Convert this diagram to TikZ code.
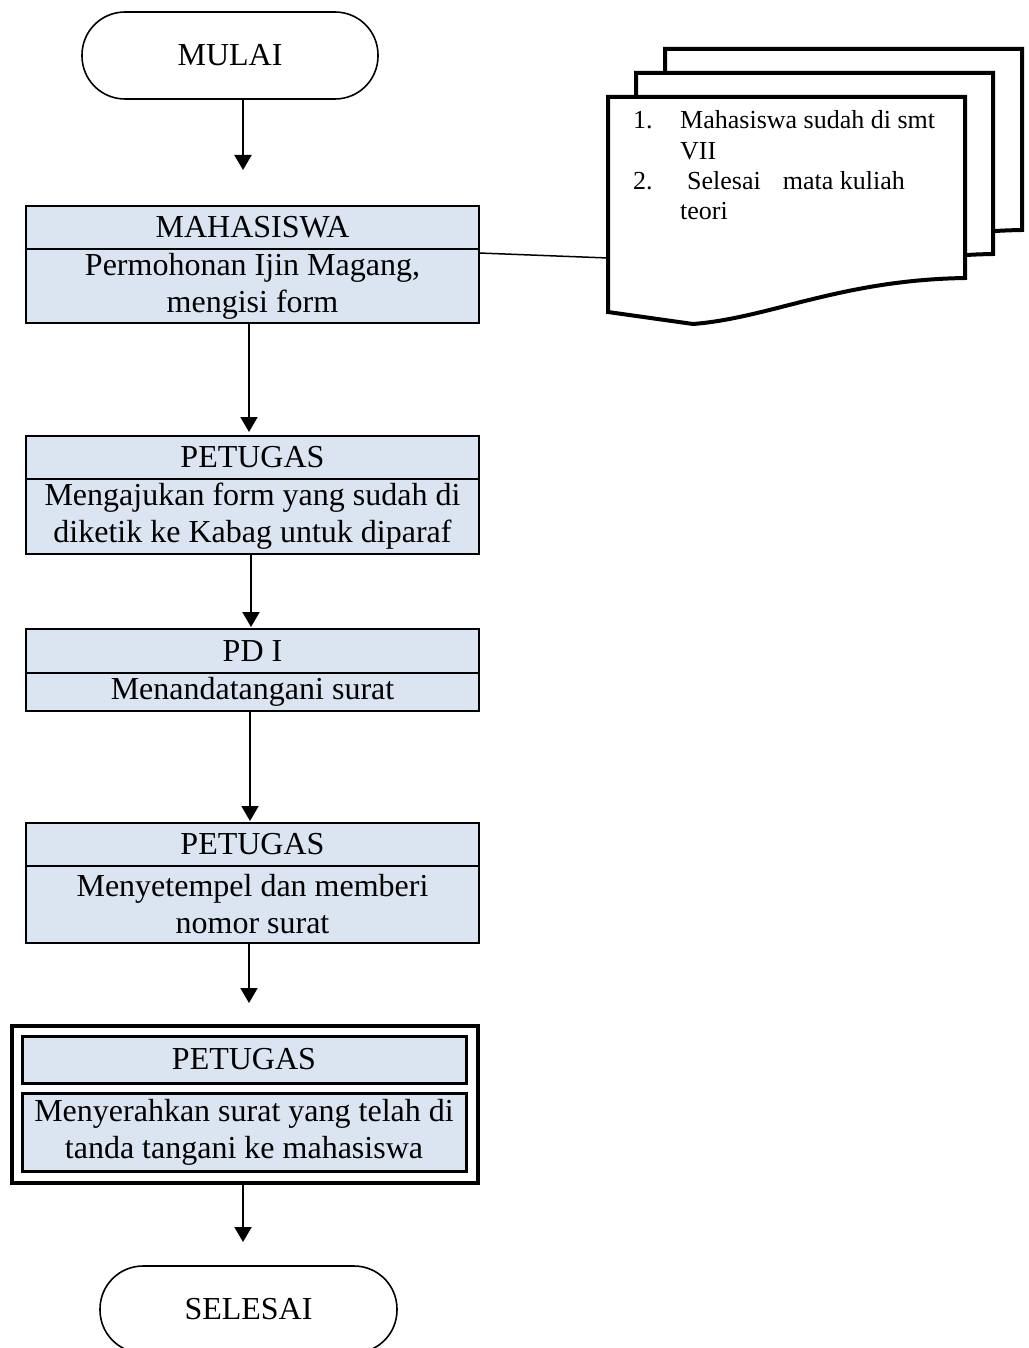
\documentclass[tikz,border=0pt]{standalone}
\usepackage{fontspec}
\setmainfont{Liberation Serif}
\usetikzlibrary{arrows.meta}
\definecolor{boxblue}{HTML}{DBE5F1}
\begin{document}
\begin{tikzpicture}[x=1pt,y=-1pt,
  box/.style={draw=black,line width=1.6pt,fill=boxblue,inner sep=0pt,align=center,
    font=\fontsize{32}{37}\selectfont},
  term/.style={draw=black,line width=1.6pt,fill=white,inner sep=0pt,
    font=\fontsize{32}{36}\selectfont},
  ibox/.style={draw=black,line width=3pt,fill=boxblue,inner sep=0pt,align=center,
    font=\fontsize{32}{37}\selectfont},
  arr/.style={line width=2pt,-{Triangle[width=17pt,length=15pt]}},
  sheet/.style={draw=black,line width=4pt,fill=white,line join=miter},
  doctext/.style={anchor=base west,inner sep=0pt,font=\fontsize{26}{30}\selectfont}]
\useasboundingbox (0,0) rectangle (1028,1348);

% terminals
\node[term,minimum width=296,minimum height=87,rounded corners=43] (mulai) at (230,55.5) {MULAI};

% box 1
\node[box,minimum width=453,minimum height=43] (h1) at (252.5,227.5) {MAHASISWA};
\node[box,minimum width=453,minimum height=74] (b1) at (252.5,286) {Permohonan Ijin Magang,\\mengisi form};

% box 2
\node[box,minimum width=453,minimum height=43] (h2) at (252.5,457.5) {PETUGAS};
\node[box,minimum width=453,minimum height=75] (b2) at (252.5,516.5) {Mengajukan form yang sudah di\\diketik ke Kabag untuk diparaf};

% box 3
\node[box,minimum width=453,minimum height=44] (h3) at (252.5,651) {PD I};
\node[box,minimum width=453,minimum height=38] (b3) at (252.5,692) {Menandatangani surat};

% box 4
\node[box,minimum width=453,minimum height=43] (h4) at (252.5,844.5) {PETUGAS};
\node[box,minimum width=453,minimum height=77] (b4) at (252.5,904.5) {Menyetempel dan memberi\\nomor surat};

% box 5 (double)
\node[draw=black,line width=4pt,fill=white,minimum width=466,minimum height=157,inner sep=0pt] (outer) at (245,1104.5) {};
\node[ibox,minimum width=444,minimum height=47] (h5) at (244,1059.5) {PETUGAS};
\node[ibox,minimum width=444,minimum height=78] (b5) at (244,1132) {Menyerahkan surat yang telah di\\tanda tangani ke mahasiswa};

\node[term,minimum width=297,minimum height=87,rounded corners=43] (selesai) at (248.5,1309.5) {SELESAI};

% arrows
\coordinate (e1) at (243,170);
\coordinate (e2) at (249,432);
\coordinate (e3) at (251,627);
\coordinate (e4) at (250,821);
\coordinate (e5) at (249,1003);
\coordinate (e6) at (243,1242);
\draw[arr] (mulai.south -| e1) -- (e1);
\draw[arr] (b1.south -| e2) -- (e2);
\draw[arr] (b2.south -| e3) -- (e3);
\draw[arr] (b3.south -| e4) -- (e4);
\draw[arr] (b4.south -| e5) -- (e5);
\draw[arr] (outer.south -| e6) -- (e6);

% document stack
\foreach \dx/\dy in {57/-48, 28/-24, 0/0}{
  \begin{scope}[shift={(\dx,\dy)}]
    \draw[sheet] (608,312) -- (608,97) -- (965,97) -- (965,278)
      .. controls (840,280) and (770,318) .. (693,324) -- cycle;
  \end{scope}
}
\coordinate (docL) at (608,258);
\coordinate (c1) at (479,253);
\draw[line width=1.5pt] (c1) -- (docL);

\node[doctext] (n1) at (633,129) {1.};
\node[doctext] (t1) at (680,129) {Mahasiswa sudah di smt};
\node[doctext] (t1b) at (680,160) {VII};
\node[doctext] (n2) at (633,190) {2.};
\node[doctext] (t2) at (687,190) {Selesai\hspace{22pt}mata kuliah};
\node[doctext] (t2b) at (680,220) {teori};
\end{tikzpicture}
\end{document}
